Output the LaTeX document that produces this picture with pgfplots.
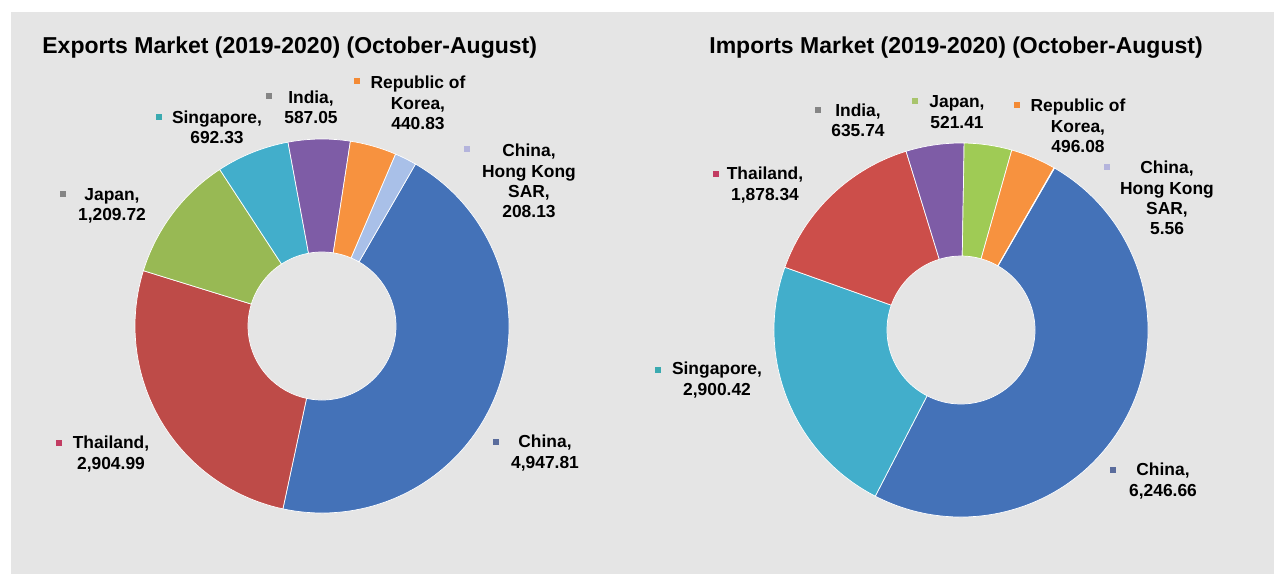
\documentclass[border=0pt]{standalone}
\usepackage{pgfplots}
\pgfplotsset{compat=1.18}
\usepackage{pgfplotstable}
\usepackage{etoolbox}
\usepackage{fontspec}
\setmainfont{Liberation Sans}

\definecolor{bg}{RGB}{229,229,229}
\definecolor{cBlue}{HTML}{4472B8}
\definecolor{cRed}{HTML}{BE4B48}
\definecolor{cRed2}{HTML}{CC4E4A}
\definecolor{cGreen}{HTML}{98B954}
\definecolor{cGreen2}{HTML}{9FCB55}
\definecolor{cCyan}{HTML}{42AECB}
\definecolor{cPurple}{HTML}{7E5CA6}
\definecolor{cOrange}{HTML}{F7923F}
\definecolor{cLav}{HTML}{A9C0E8}
% label key colours
\definecolor{kTeal}{HTML}{3AAAB0}
\definecolor{kGray}{HTML}{858585}
\definecolor{kOrange}{HTML}{F38A35}
\definecolor{kLav}{HTML}{B4B4DC}
\definecolor{kCrimson}{HTML}{C23C62}
\definecolor{kSlate}{HTML}{5A6C9C}
\definecolor{kGreen}{HTML}{A8C46C}

\pgfplotstableread[col sep=comma]{
country,value,color
China,4947.81,cBlue
Thailand,2904.99,cRed
Japan,1209.72,cGreen
Singapore,692.33,cCyan
India,587.05,cPurple
Republic of Korea,440.83,cOrange
China Hong Kong SAR,208.13,cLav
}\exportsdata

\pgfplotstableread[col sep=comma]{
country,value,color
China,6246.66,cBlue
Singapore,2900.42,cCyan
Thailand,1878.34,cRed2
India,635.74,cPurple
Japan,521.41,cGreen2
Republic of Korea,496.08,cOrange
China Hong Kong SAR,5.56,cLav
}\importsdata

\def\Ro{187}
\def\Ri{74}

% builds the slices of one doughnut from a table (values accumulated clockwise)
\newcommand\mkdonut[5]{%
  \pgfplotstablegetrowsof{#2}\pgfmathtruncatemacro\dN{\pgfplotsretval-1}%
  \gdef\dsum{0}%
  \foreach \i in {0,...,\dN}{%
    \pgfplotstablegetelem{\i}{value}\of{#2}%
    \pgfmathsetmacro\dtmp{\dsum+\pgfplotsretval}\xdef\dsum{\dtmp}}%
  \gdef\dacc{0}\gdef#1{}%
  \foreach \i in {0,...,\dN}{%
    \pgfplotstablegetelem{\i}{value}\of{#2}\let\dval\pgfplotsretval
    \pgfplotstablegetelem{\i}{color}\of{#2}\let\dcol\pgfplotsretval
    \pgfmathsetmacro\aA{90-#5-360*(\dacc/\dsum)}%
    \pgfmathsetmacro\dtmp{\dacc+\dval}\xdef\dacc{\dtmp}%
    \pgfmathsetmacro\aB{90-#5-360*(\dacc/\dsum)}%
    \pgfmathsetmacro\xA{#3+\Ro*cos(\aA)}\pgfmathsetmacro\yA{#4+\Ro*sin(\aA)}%
    \pgfmathsetmacro\xB{#3+\Ri*cos(\aB)}\pgfmathsetmacro\yB{#4+\Ri*sin(\aB)}%
    \pgfmathsetmacro\rO{\Ro*0.5}\pgfmathsetmacro\rI{\Ri*0.5}%
    \xappto#1{\noexpand\fill[\dcol,draw=white,line width=0.35pt] (axis cs:\xA,\yA) arc[start angle=\aA,end angle=\aB,radius=\rO pt] -- (axis cs:\xB,\yB) arc[start angle=\aB,end angle=\aA,radius=\rI pt] -- cycle;}%
  }%
}

\newcommand\lbl{\fontsize{8.7}{10.2}\selectfont\bfseries}
\newcommand\ttl{\fontsize{11.5}{13}\selectfont\bfseries}
% data label: x, y (pixels from top), text
\newcommand\lab[3]{\node[align=center,font=\lbl,inner sep=0pt,anchor=center] at (axis cs:#1,{574-#2}) {#3};}
% label key: x, y, colour
\newcommand\mk[3]{\fill[#3] (axis cs:{#1-3},{574-#2-3}) rectangle (axis cs:{#1+3},{574-#2+3});}

\begin{document}
\begin{tikzpicture}
\mkdonut{\slicesE}{\exportsdata}{322}{248}{30}
\mkdonut{\slicesI}{\importsdata}{961}{244}{30}
\begin{axis}[x=0.5pt,y=0.5pt,xmin=0,xmax=1274,ymin=0,ymax=574,
  hide axis,scale only axis,clip=false]
\fill[white] (axis cs:0,0) rectangle (axis cs:1274,574);
\fill[bg] (axis cs:11,0) rectangle (axis cs:1274,562);
\slicesE
\slicesI
% titles
\node[anchor=base west,font=\ttl,inner sep=0pt] at (axis cs:42,{574-54}) {Exports Market (2019-2020) (October-August)};
\node[anchor=base west,font=\ttl,inner sep=0pt] at (axis cs:709,{574-54}) {Imports Market (2019-2020) (October-August)};
% exports labels
\mk{159}{117}{kTeal}   \lab{217}{127}{Singapore,\\692.33}
\mk{269}{96}{kGray}    \lab{311}{107}{India,\\587.05}
\mk{357}{81}{kOrange}  \lab{418}{103}{Republic of\\Korea,\\440.83}
\mk{467}{149}{kLav}    \lab{529}{181}{China,\\Hong Kong\\SAR,\\208.13}
\mk{63}{194}{kGray}    \lab{112}{206}{Japan,\\1,209.72}
\mk{59}{443}{kCrimson} \lab{111}{454}{Thailand,\\2,904.99}
\mk{496}{442}{kSlate}  \lab{545}{453}{China,\\4,947.81}
% imports labels
\mk{818}{110}{kGray}   \lab{858}{120}{India,\\635.74}
\mk{915}{101}{kGreen}  \lab{957}{112}{Japan,\\521.41}
\mk{1017}{105}{kOrange}\lab{1078}{126}{Republic of\\Korea,\\496.08}
\mk{1107}{167}{kLav}   \lab{1167}{198}{China,\\Hong Kong\\SAR,\\5.56}
\mk{716}{174}{kCrimson}\lab{765}{185}{Thailand,\\1,878.34}
\mk{658}{370}{kTeal}   \lab{717}{380}{Singapore,\\2,900.42}
\mk{1113}{470}{kSlate} \lab{1163}{481}{China,\\6,246.66}
\end{axis}
\end{tikzpicture}
\end{document}
